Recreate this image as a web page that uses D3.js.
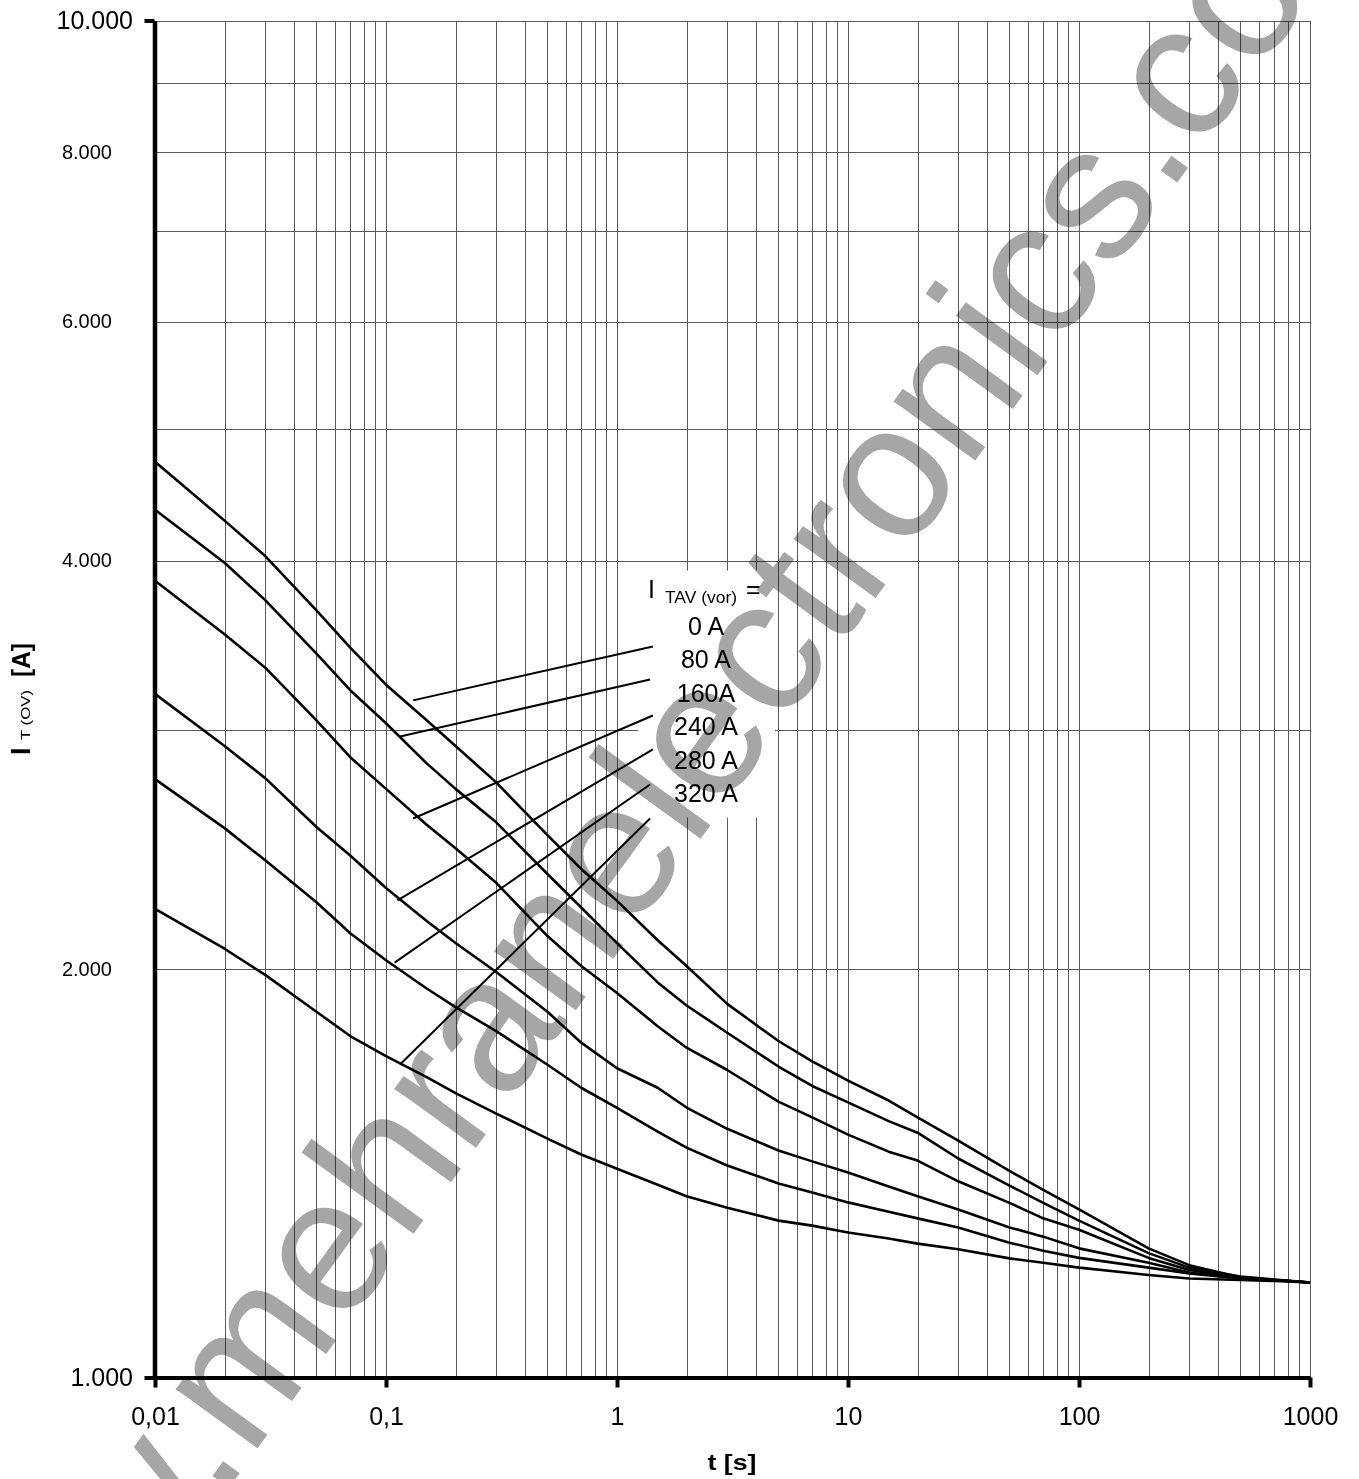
<!DOCTYPE html>
<html><head><meta charset="utf-8">
<script src="https://cdn.jsdelivr.net/npm/d3@7"></script>
<style>
html,body{margin:0;padding:0;background:#fff;}
svg{display:block;background:#fff;}
text{font-family:"Liberation Sans",Arial,Helvetica,sans-serif;}
</style></head><body>
<svg id="chart" width="1359" height="1479"></svg>
<script>
// ---------- data ----------
const times = [0.01,0.02,0.03,0.05,0.07,0.1,0.15,0.2,0.3,0.5,0.7,1,1.5,2,3,5,7,10,15,20,30,50,70,100,200,300,500,700,1000];
const I_0A   = [4730,4280,4030,3675,3450,3240,3050,2920,2745,2510,2370,2245,2100,2010,1885,1770,1710,1655,1600,1555,1495,1420,1375,1330,1245,1210,1185,1180,1175];
const I_80A  = [4360,3985,3740,3415,3210,3035,2835,2715,2565,2350,2220,2090,1955,1880,1795,1695,1640,1595,1545,1515,1450,1385,1345,1305,1235,1205,1187,1181,1175];
const I_160A = [3865,3530,3335,3050,2865,2715,2555,2455,2315,2115,2010,1920,1815,1750,1685,1597,1555,1510,1467,1445,1395,1345,1310,1285,1225,1200,1185,1180,1175];
const I_240A = [3190,2920,2765,2545,2425,2295,2170,2090,1990,1860,1765,1690,1635,1581,1525,1470,1443,1416,1383,1360,1330,1290,1270,1245,1215,1195,1183,1180,1175];
const I_280A = [2760,2540,2405,2240,2125,2030,1935,1875,1800,1700,1635,1580,1518,1477,1433,1390,1369,1346,1325,1310,1290,1257,1240,1225,1205,1193,1183,1180,1175];
const I_320A = [2215,2070,1980,1860,1785,1725,1665,1620,1565,1500,1460,1425,1387,1360,1334,1305,1294,1279,1266,1255,1243,1224,1215,1205,1190,1183,1180,1178,1175];
const seriesLabels = ["0 A","80 A","160A","240 A","280 A","320 A"];
const leaderStartT = [0.131,0.115,0.131,0.112,0.109,0.115];
const leaderStartI = [3155,2967,2582,2247,2022,1701];
const leaderEndT   = [1.43,1.39,1.43,1.43,1.39,1.39];
const leaderEndI   = [3457,3269,3075,2903,2735,2582];
const xTickValues = [0.01,0.1,1,10,100,1000];
const xTickLabels = ["0,01","0,1","1","10","100","1000"];
const yTickValues = [1000,2000,4000,6000,8000,10000];
const yTickLabels = ["1.000","2.000","4.000","6.000","8.000","10.000"];
const labelBoxT = [1.233,4.83];
const labelBoxI = [2586,3933];
const watermarkText = "www.mehranelectronics.com";

// ---------- scales ----------
const svg = d3.select("#chart");
const x = d3.scaleLog().domain([0.01,1000]).range([155,1310]);
const y = d3.scaleLog().domain([1000,10000]).range([1377.5,20.5]);
const FONT = '"Liberation Sans",Arial,Helvetica,sans-serif';

// ---------- gridlines ----------
const grid = svg.append("g").attr("stroke","#5a5a5a").attr("stroke-width",1).attr("shape-rendering","crispEdges");
grid.selectAll("line.v").data(x.ticks().filter(d=>d>0.0100001)).join("line")
  .attr("class","v").attr("x1",d=>Math.round(x(d))+0.5).attr("x2",d=>Math.round(x(d))+0.5)
  .attr("y1",y(10000)).attr("y2",y(1000));
grid.selectAll("line.h").data(y.ticks().filter(d=>d>1000.1)).join("line")
  .attr("class","h").attr("y1",d=>Math.round(y(d))+0.5).attr("y2",d=>Math.round(y(d))+0.5)
  .attr("x1",x(0.01)).attr("x2",x(1000));

// white label box
svg.append("rect")
  .attr("x",x(labelBoxT[0])).attr("width",x(labelBoxT[1])-x(labelBoxT[0]))
  .attr("y",y(labelBoxI[1])).attr("height",y(labelBoxI[0])-y(labelBoxI[1]))
  .attr("fill","#fff");

// ---------- watermark ----------
svg.append("text")
  .attr("transform","translate(696,845) rotate(-54)")
  .attr("text-anchor","middle")
  .attr("font-size",191)
  .attr("font-family",FONT)
  .attr("fill","#a6a6a6")
  .style("mix-blend-mode","multiply")
  .text(watermarkText);

// ---------- curves ----------
const allSeries = [I_0A,I_80A,I_160A,I_240A,I_280A,I_320A];
const line = d3.line().x(d=>x(d[0])).y(d=>y(d[1]));
svg.append("g").selectAll("path").data(allSeries.map(vals=>times.map((t,i)=>[t,vals[i]]))).join("path")
  .attr("d",line).attr("fill","none").attr("stroke","#000").attr("stroke-width",2.6)
  .attr("stroke-linejoin","round");

// leaders
svg.append("g").selectAll("line").data(seriesLabels.map((s,i)=>i)).join("line")
  .attr("x1",i=>x(leaderStartT[i])).attr("y1",i=>y(leaderStartI[i]))
  .attr("x2",i=>x(leaderEndT[i])).attr("y2",i=>y(leaderEndI[i]))
  .attr("stroke","#000").attr("stroke-width",2);

// labels
const lbl = svg.append("g").attr("font-family",FONT).attr("fill","#000");
lbl.append("text").attr("x",648).attr("y",598).attr("font-size",25).text("I");
lbl.append("text").attr("x",665).attr("y",603).attr("font-size",16)
  .attr("textLength",72).attr("lengthAdjust","spacingAndGlyphs").text("TAV (vor)");
lbl.append("text").attr("x",746).attr("y",598).attr("font-size",25).text("=");
lbl.selectAll("text.v").data(seriesLabels).join("text").attr("class","v")
  .attr("x",706).attr("y",(d,i)=>635+i*33.4).attr("text-anchor","middle")
  .attr("font-size",25).text(d=>d);

// ---------- axes ----------
const xAxis = d3.axisBottom(x).tickValues(xTickValues)
  .tickFormat((d,i)=>xTickLabels[i]).tickSize(10).tickSizeOuter(0).tickPadding(20);
const gx = svg.append("g").attr("transform","translate(0,1377.5)").call(xAxis);
gx.attr("font-family",FONT).attr("font-size",25);
gx.select(".domain").attr("stroke","#000").attr("stroke-width",4);
gx.selectAll(".tick line").attr("stroke","#000").attr("stroke-width",4);
gx.selectAll(".tick text").attr("fill","#000");

const yAxis = d3.axisLeft(y).tickValues(yTickValues)
  .tickFormat((d,i)=>yTickLabels[i]).tickSize(0).tickSizeOuter(0);
const gy = svg.append("g").attr("transform","translate(154.5,0)").call(yAxis);
gy.attr("font-family",FONT);
gy.select(".domain").attr("stroke","#000").attr("stroke-width",4.5);
const isMajor = d => d===1000 || d===10000;
gy.selectAll(".tick line").attr("stroke","#000").attr("stroke-width",4).attr("x2",d=>isMajor(d)?-10:0);
gy.selectAll(".tick text").attr("fill","#000")
  .attr("font-size",d=>isMajor(d)?25:20)
  .attr("x",d=>isMajor(d)?-21.5:-42.5);

// ---------- axis titles ----------
svg.append("text").attr("x",732).attr("y",1470).attr("text-anchor","middle")
  .attr("font-size",22).attr("font-weight","bold").attr("font-family",FONT)
  .attr("textLength",49).attr("lengthAdjust","spacingAndGlyphs").text("t [s]");
const yt = svg.append("g").attr("font-family",FONT).attr("fill","#000");
yt.append("text").attr("transform","translate(30,755) rotate(-90)")
  .attr("font-size",27).attr("font-weight","bold").text("I");
yt.append("text").attr("transform","translate(30,740) rotate(-90)")
  .attr("font-size",12).attr("textLength",50).attr("lengthAdjust","spacingAndGlyphs").text("T (OV)");
yt.append("text").attr("transform","translate(30,677) rotate(-90)")
  .attr("font-size",25).attr("font-weight","bold")
  .attr("textLength",34).attr("lengthAdjust","spacingAndGlyphs").text("[A]");
</script>
</body></html>
